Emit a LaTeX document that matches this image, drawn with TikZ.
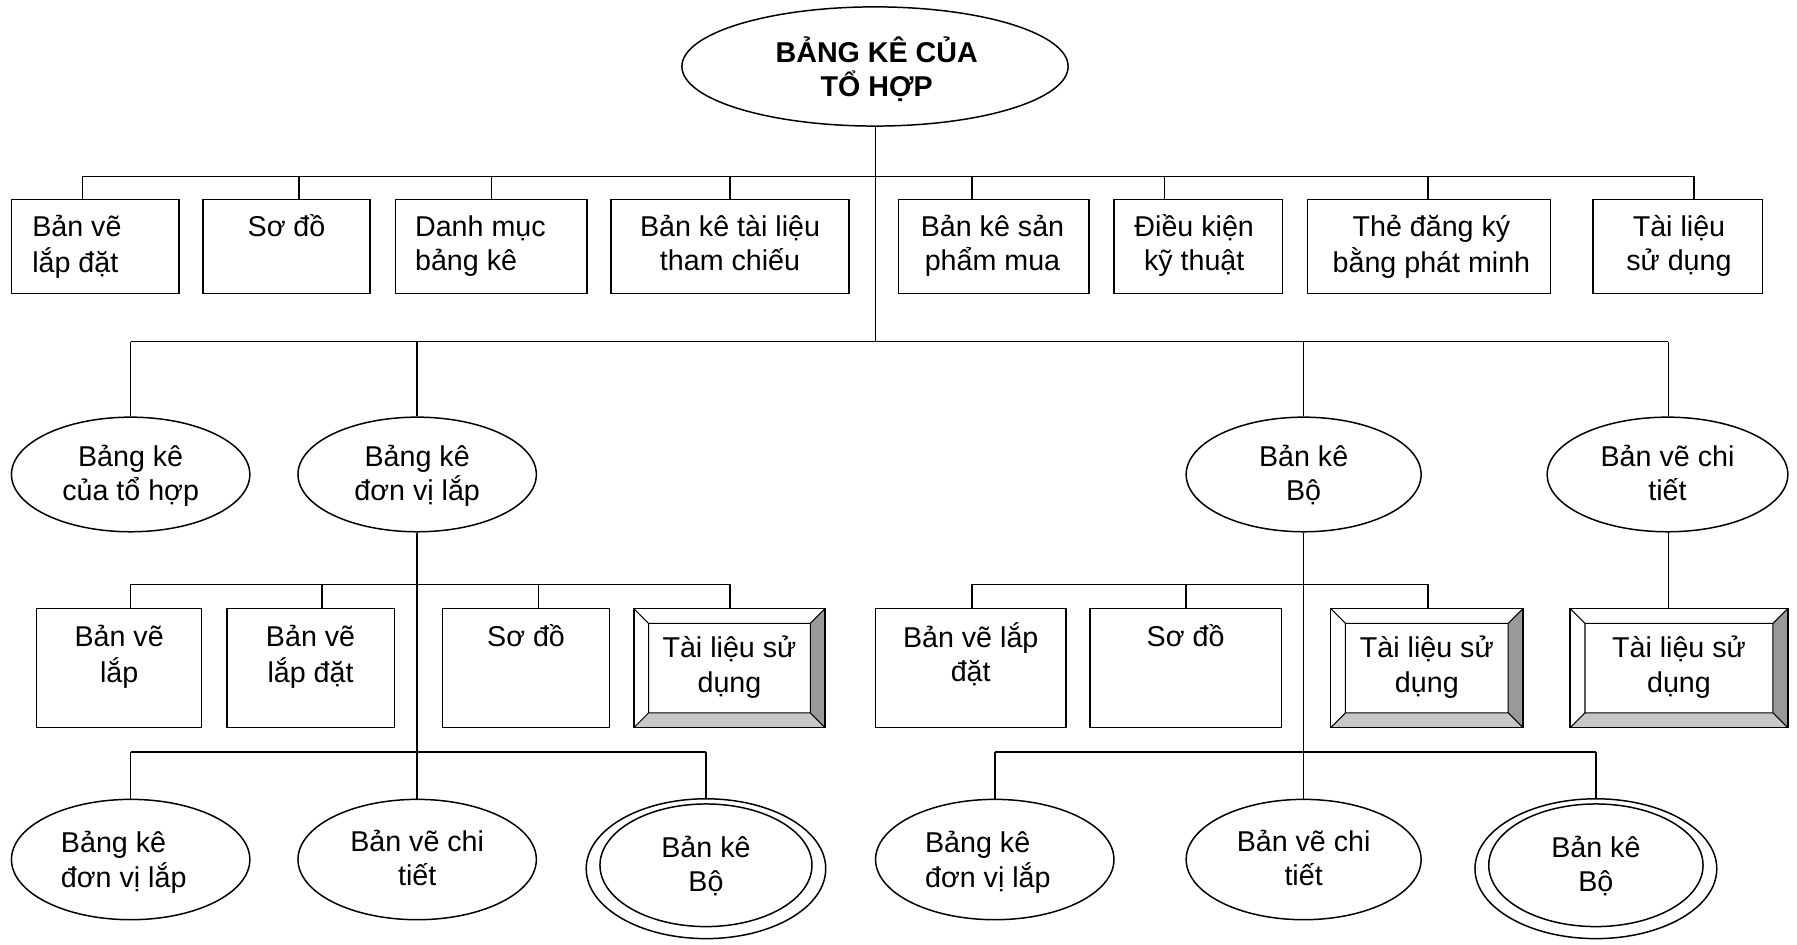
\documentclass[tikz,border=0pt]{standalone}
\usepackage{fontspec}
\setmainfont{Liberation Sans}
\usetikzlibrary{shapes.geometric,calc}
\definecolor{bevR}{gray}{0.6}
\definecolor{bevB}{gray}{0.78}
\newcommand\ls{\rule[-6pt]{0pt}{28pt}}
\begin{document}
\begin{tikzpicture}[x=1pt,y=-1pt,
  every node/.style={font=\fontsize{25}{30}\selectfont, inner sep=0pt},
  ln/.style={line width=1.3pt},
  box/.style={draw, line width=1.3pt, rectangle, inner sep=0pt},
  topbox/.style={box, minimum height=82pt},
  midbox/.style={box, minimum height=104pt},
  txt/.style={align=center, anchor=north},
  txtl/.style={align=left, anchor=north west},
  ell/.style={draw, line width=1.3pt, ellipse, inner sep=0pt, align=center, minimum width=208pt, minimum height=100pt},
  ellb/.style={ell, minimum height=105pt},
  dbl/.style={draw, line width=1.3pt, ellipse, inner sep=0pt, minimum width=209pt, minimum height=122pt},
  dbli/.style={draw, line width=1.3pt, ellipse, inner sep=0pt, align=center, minimum width=185pt, minimum height=107pt},
  bevel/.style={draw, line width=1.3pt, align=center, inner sep=0pt, minimum height=104pt,
    path picture={
      \path (path picture bounding box.north west) coordinate (pNW)
            (path picture bounding box.south east) coordinate (pSE);
      \path (pNW -| pSE) coordinate (pNE) (pNW |- pSE) coordinate (pSW);
      \path ([shift={(13pt,-13pt)}]pNW) coordinate (qNW) ([shift={(-13pt,13pt)}]pSE) coordinate (qSE);
      \path (qNW -| qSE) coordinate (qNE) (qNW |- qSE) coordinate (qSW);
      \fill[bevR] (pNE) -- (qNE) -- (qSE) -- (pSE) -- cycle;
      \fill[bevB] (pSW) -- (qSW) -- (qSE) -- (pSE) -- cycle;
      \draw[line width=0.9pt] (qNW) rectangle (qSE) (pNW) -- (qNW) (pNE) -- (qNE) (pSW) -- (qSW) (pSE) -- (qSE);
    }},
]
\fill[white] (0,0) rectangle (1568,824);
\useasboundingbox (0,0) rectangle (1568,824);

% root
\node[draw, ellipse, line width=1.3pt, minimum width=337pt, minimum height=104pt] (root) at (763.5,58) {};
\node[align=center, font=\fontsize{25}{30}\selectfont\bfseries] (roott) at (765,61) {\ls BẢNG KÊ CỦA\\\ls TỔ HỢP};

% top row boxes
\node[topbox, minimum width=146pt] (b1) at (83,215) {};
\node[topbox, minimum width=146pt] (b2) at (250,215) {};
\node[topbox, minimum width=167pt] (b3) at (428.5,215) {};
\node[topbox, minimum width=208pt] (b4) at (637,215) {};
\node[topbox, minimum width=166pt] (b5) at (867,215) {};
\node[topbox, minimum width=147pt] (b6) at (1045.5,215) {};
\node[topbox, minimum width=212pt] (b7) at (1247,215) {};
\node[topbox, minimum width=148pt] (b8) at (1464,215) {};
\node[txtl] (b1t) at (28,185) {\strut Bản vẽ\\\strut lắp đặt};
\node[txt] (b2t) at (250,185) {\strut Sơ đồ};
\node[txtl] (b3t) at (362,185) {\strut Danh mục\\\strut bảng kê};
\node[txt] (b4t) at (637,185) {\strut Bản kê tài liệu\\\strut tham chiếu};
\node[txt] (b5t) at (866,185) {\strut Bản kê sản\\\strut phẩm mua};
\node[txt] (b6t) at (1042,185) {\strut Điều kiện\\\strut kỹ thuật};
\node[txt] (b7t) at (1249,185) {\strut Thẻ đăng ký\\\strut bằng phát minh};
\node[txt] (b8t) at (1465,185) {\strut Tài liệu\\\strut sử dụng};

% middle ellipses
\node[ell] (e1) at (114,414) {\ls Bảng kê\\\ls của tổ hợp};
\node[ell] (e2) at (364,414) {\ls Bảng kê\\\ls đơn vị lắp};
\node[ell, minimum width=205pt] (e3) at (1137.5,414) {\ls Bản kê\\\ls Bộ};
\node[ell, minimum width=210pt] (e4) at (1455,414) {\ls Bản vẽ chi\\\ls tiết};

% row 3 boxes (left)
\node[midbox, minimum width=144pt] (r1) at (104,583) {};
\node[midbox, minimum width=146pt] (r2) at (271,583) {};
\node[midbox, minimum width=146pt] (r3) at (459,583) {};
\node[bevel, minimum width=167pt] (r4) at (636.5,583) {\strut Tài liệu sử\\\strut dụng};
\node[txt] (r1t) at (104,543) {\strut Bản vẽ\\\strut lắp};
\node[txt] (r2t) at (271,543) {\strut Bản vẽ\\\strut lắp đặt};
\node[txt] (r3t) at (459,543) {\strut Sơ đồ};

% row 3 boxes (right)
\node[midbox, minimum width=166pt] (s1) at (847,583) {};
\node[midbox, minimum width=167pt] (s2) at (1034.5,583) {};
\node[bevel, minimum width=168pt] (s3) at (1245,583) {\strut Tài liệu sử\\\strut dụng};
\node[bevel, minimum width=190pt] (s4) at (1465,583) {\strut Tài liệu sử\\\strut dụng};
\node[txt] (s1t) at (847,543) {\strut Bản vẽ lắp\\\strut đặt};
\node[txt] (s2t) at (1034.5,543) {\strut Sơ đồ};

% bottom ellipses
\node[ellb] (f1) at (114,750) {};
\node[align=left, anchor=west] (f1t) at (53,751) {\ls Bảng kê\\\ls đơn vị lắp};
\node[ellb] (f2) at (364,750) {\ls Bản vẽ chi\\\ls tiết};
\node[dbl] (f3) at (616,758) {};
\node[dbli] (f3i) at (616,755) {\ls Bản kê\\\ls Bộ};
\node[ellb] (g1) at (868,750) {};
\node[align=left, anchor=west] (g1t) at (807,751) {\ls Bảng kê\\\ls đơn vị lắp};
\node[ellb, minimum width=205pt] (g2) at (1137.5,750) {\ls Bản vẽ chi\\\ls tiết};
\node[dbl, minimum width=211pt] (g3) at (1392.5,758) {};
\node[dbli, minimum width=187pt] (g3i) at (1392.5,755) {\ls Bản kê\\\ls Bộ};

% junction coordinates
\coordinate (jA) at (764,154);
\coordinate (jB) at (764,298);
\coordinate (a1) at (72,154);
\coordinate (a2) at (261,154);
\coordinate (a3) at (429,154);
\coordinate (a4) at (637,154);
\coordinate (a5) at (848,154);
\coordinate (a6) at (1016,154);
\coordinate (a7) at (1246,154);
\coordinate (a8) at (1478,154);
\coordinate (cL1) at (114,510);
\coordinate (cL2) at (281,510);
\coordinate (cL3) at (470,510);
\coordinate (cL4) at (637,510);
\coordinate (cR1) at (848,510);
\coordinate (cR2) at (1035,510);
\coordinate (cR3) at (1246,510);
\coordinate (dL) at (364,656);
\coordinate (dR) at (1137.5,656);
\coordinate (s4c) at (1456,464);

% connectors
\draw[ln] (root.south -| jB) -- (jB);
\draw[ln] (a1) -- (a8);
\foreach \i in {1,...,8} { \draw[ln] (a\i) -- (a\i |- b\i.north); }
\draw[ln] (e1 |- jB) -- (e4 |- jB);
\foreach \e in {e1,e2,e3} { \draw[ln] (\e |- jB) -- (\e); }
\draw[ln] (s4c |- jB) -- (s4c |- e4.north);
\draw[ln] (e2) -- (dL);
\draw[ln] (cL1) -- (cL4);
\draw[ln] (cL1) -- (cL1 |- r1.north);
\draw[ln] (cL2) -- (cL2 |- r2.north);
\draw[ln] (cL3) -- (cL3 |- r3.north);
\draw[ln] (cL4) -- (cL4 |- r4.north);
\draw[ln] (f1 |- dL) -- (f3 |- dL);
\foreach \e in {f1,f2,f3} { \draw[ln] (\e |- dL) -- (\e); }
\draw[ln] (e3) -- (dR);
\draw[ln] (cR1) -- (cR3);
\draw[ln] (cR1) -- (cR1 |- s1.north);
\draw[ln] (cR2) -- (cR2 |- s2.north);
\draw[ln] (cR3) -- (cR3 |- s3.north);
\draw[ln] (g1 |- dR) -- (g3 |- dR);
\foreach \e in {g1,g2,g3} { \draw[ln] (\e |- dR) -- (\e); }
\draw[ln] (s4c) -- (s4c |- s4.north);
\end{tikzpicture}
\end{document}
